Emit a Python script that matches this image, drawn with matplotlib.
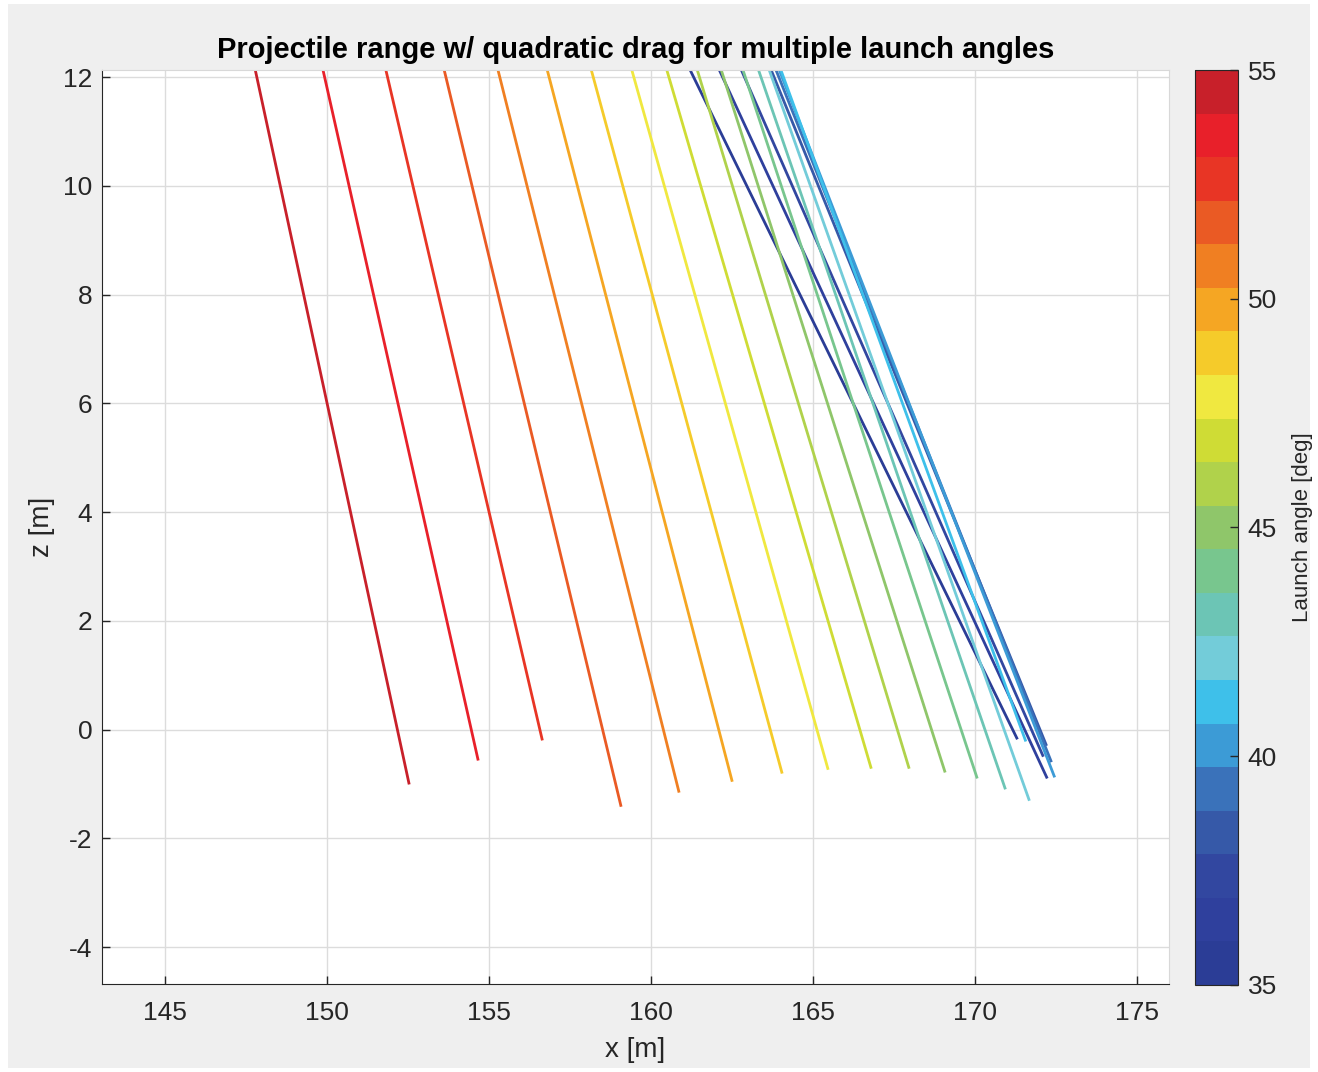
#!/usr/bin/env python3
"""Projectile range with quadratic drag, one line per launch angle."""
import matplotlib
matplotlib.use("Agg")
import matplotlib.pyplot as plt
from matplotlib.colors import ListedColormap, Normalize
from matplotlib.cm import ScalarMappable
from matplotlib.patches import Rectangle

# Launch angles [deg], one trajectory tail each
angles = list(range(35, 56))

# x [m] where each trajectory enters the top of the view (z = Z_TOP)
x_top = [161.20, 162.10, 162.78, 163.70, 163.85, 163.95, 164.00,
         163.64, 163.31, 162.83, 162.16, 161.42, 160.48, 159.40,
         158.15, 156.79, 155.27, 153.61, 151.81, 149.87, 147.78]
Z_TOP = 12.13

# last sample of each trajectory (just below ground)
x_end = [171.30, 172.22, 172.10, 172.20, 172.35, 172.45, 171.56,
         171.67, 170.93, 170.06, 169.07, 167.96, 166.79, 165.46,
         164.04, 162.50, 160.86, 159.07, 156.64, 154.66, 152.53]
z_end = [-0.18, -0.90, -0.50, -0.30, -0.60, -0.88, -0.22,
         -1.31, -1.10, -0.90, -0.79, -0.72, -0.72, -0.74,
         -0.81, -0.96, -1.16, -1.42, -0.20, -0.57, -1.01]

# discrete colormap, 35 deg -> 55 deg
angle_colors = ["#2b3d96", "#2f409d", "#3247a0", "#3659a8", "#3a72ba",
                "#3c9bd6", "#3ec0ea", "#73ccd9", "#6cc5b5", "#78c68e",
                "#8fc66a", "#b0d24b", "#cfdc35", "#f0e840", "#f5cb2a",
                "#f5a623", "#f07f22", "#ea5a24", "#e83525", "#e8202a",
                "#c8202a"]

x_ticks = [145, 150, 155, 160, 165, 170, 175]
z_ticks = [-4, -2, 0, 2, 4, 6, 8, 10, 12]
cb_ticks = [35, 40, 45, 50, 55]

TXT = "#262626"
plt.rcParams.update({
    "font.family": ["Liberation Sans", "DejaVu Sans"],
    "font.size": 19,
    "axes.unicode_minus": False,
    "axes.edgecolor": TXT,
    "xtick.color": TXT,
    "ytick.color": TXT,
})


def main():
    fig = plt.figure(figsize=(13.18, 10.72), dpi=100)
    fig.patch.set_facecolor("white")
    fig.add_artist(Rectangle((8 / 1318, 4 / 1072), 1302 / 1318, 1064 / 1072,
                             transform=fig.transFigure, facecolor="#efefef",
                             edgecolor="none", zorder=-10))

    ax = fig.add_axes([0.0774, 0.0821, 0.8096, 0.8526])
    cmap = ListedColormap(angle_colors)
    norm = Normalize(vmin=35, vmax=55)

    for i, a in enumerate(angles):
        ax.plot([x_top[i], x_end[i]], [Z_TOP, z_end[i]],
                color=angle_colors[i], lw=2.0, solid_capstyle="butt")

    ax.set_xlim(143.05, 175.98)
    ax.set_ylim(-4.68, 12.13)
    ax.set_xticks(x_ticks)
    ax.set_yticks(z_ticks)
    ax.tick_params(axis="x", direction="in", length=6, width=1, labelsize=19, pad=12)
    ax.tick_params(axis="y", direction="in", length=6, width=1, labelsize=19, pad=7)
    ax.grid(True, color="#dcdcdc", lw=1)
    ax.set_axisbelow(True)
    for side in ("top", "right"):
        ax.spines[side].set_color("#d8d8d8")
    ax.set_xlabel("x [m]", fontsize=20, color=TXT, labelpad=9)
    ax.set_ylabel("z [m]", fontsize=20, color=TXT)
    ax.yaxis.set_label_coords(-0.044, 0.5)
    ax.set_title("Projectile range w/ quadratic drag for multiple launch angles",
                 fontsize=21, fontweight="bold", color="black", pad=9)

    cax = fig.add_axes([0.9067, 0.0812, 0.0326, 0.8535])
    cb = fig.colorbar(ScalarMappable(norm=norm, cmap=cmap), cax=cax)
    cb.set_ticks(cb_ticks)
    cb.ax.tick_params(direction="in", length=6, width=1, labelsize=19, pad=7)
    cb.outline.set_edgecolor(TXT)
    cb.set_label("Launch angle [deg]", fontsize=16, color=TXT, labelpad=11)

    fig.savefig("out.png", dpi=100, facecolor=fig.get_facecolor())
    plt.close(fig)


if __name__ == "__main__":
    main()
